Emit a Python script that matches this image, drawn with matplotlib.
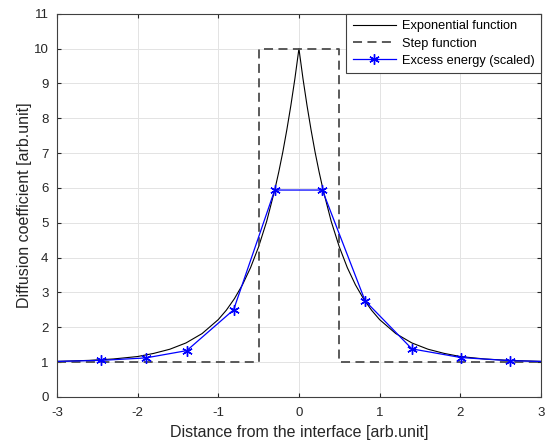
#!/usr/bin/env python3
"""Diffusion coefficient profile across an interface."""

import matplotlib

matplotlib.use("Agg")
import matplotlib.pyplot as plt

plt.rcParams["font.family"] = ["Liberation Sans", "DejaVu Sans"]
plt.rcParams["axes.unicode_minus"] = False

# --- exponential profile (right half, mirrored below) ---
exp_x_half = [0.0, 0.05, 0.1, 0.15, 0.2, 0.25, 0.3, 0.4, 0.5, 0.6, 0.7, 0.8,
              0.9, 1.0, 1.2, 1.4, 1.6, 1.8, 2.0, 2.3, 2.6, 3.0]
exp_y_half = [10.0, 9.14, 8.37, 7.67, 7.03, 6.46, 5.94, 5.04, 4.31, 3.71, 3.22,
              2.82, 2.49, 2.22, 1.82, 1.55, 1.37, 1.25, 1.16, 1.09, 1.05, 1.02]

# --- step function ---
step_x = [-3.0, -0.5, -0.5, 0.5, 0.5, 3.0]
step_y = [1.0, 1.0, 10.0, 10.0, 1.0, 1.0]

# --- excess energy (scaled) ---
excess_x = [-3.0, -2.45, -1.90, -1.39, -0.81, -0.30, 0.29, 0.82, 1.40, 2.01, 2.62, 3.0]
excess_y = [1.02, 1.05, 1.12, 1.33, 2.50, 5.94, 5.94, 2.76, 1.38, 1.13, 1.04, 1.02]

exp_x = [-x for x in exp_x_half[::-1]] + exp_x_half[1:]
exp_y = exp_y_half[::-1] + exp_y_half[1:]

fig = plt.figure(figsize=(5.47, 4.45), dpi=100)
ax = fig.add_axes([0.104, 0.108, 0.885, 0.861])

ax.plot(exp_x, exp_y, "-", color="black", lw=0.8, label="Exponential function")
ax.plot(step_x, step_y, "--", color="#4d4d4d", lw=1.3, dashes=(5, 3),
        label="Step function")
ax.plot(excess_x, excess_y, "-", color="blue", lw=0.9, marker=(6, 2, 0), ms=7.5,
        mew=1.0, markevery=list(range(1, len(excess_x) - 1)),
        label="Excess energy (scaled)")

ax.set_xlim(-3, 3)
ax.set_ylim(0, 11)
ax.set_xticks(range(-3, 4))
ax.set_yticks(range(0, 12))
ax.grid(True, color="#e3e3e3", lw=0.7)
ax.set_axisbelow(True)
ax.tick_params(direction="in", length=3, labelsize=9.5, colors="#262626",
               top=True, right=True)
ax.tick_params(axis="x", pad=7)
ax.tick_params(axis="y", pad=6)
for sp in ax.spines.values():
    sp.set_color("#404040")
    sp.set_linewidth(0.8)

ax.set_xlabel("Distance from the interface [arb.unit]", fontsize=11.5,
              color="#262626", labelpad=4.5)
ax.set_ylabel("Diffusion coefficient [arb.unit]", fontsize=11.5,
              color="#262626", labelpad=1.5)

leg = ax.legend(loc="upper right", fontsize=9.2, fancybox=False, framealpha=1,
                borderaxespad=0, handlelength=3.4, handletextpad=0.45,
                borderpad=0.5, labelspacing=0.42)
leg.get_frame().set_edgecolor("#404040")
leg.get_frame().set_linewidth(0.8)

fig.savefig("out.png", dpi=100)
